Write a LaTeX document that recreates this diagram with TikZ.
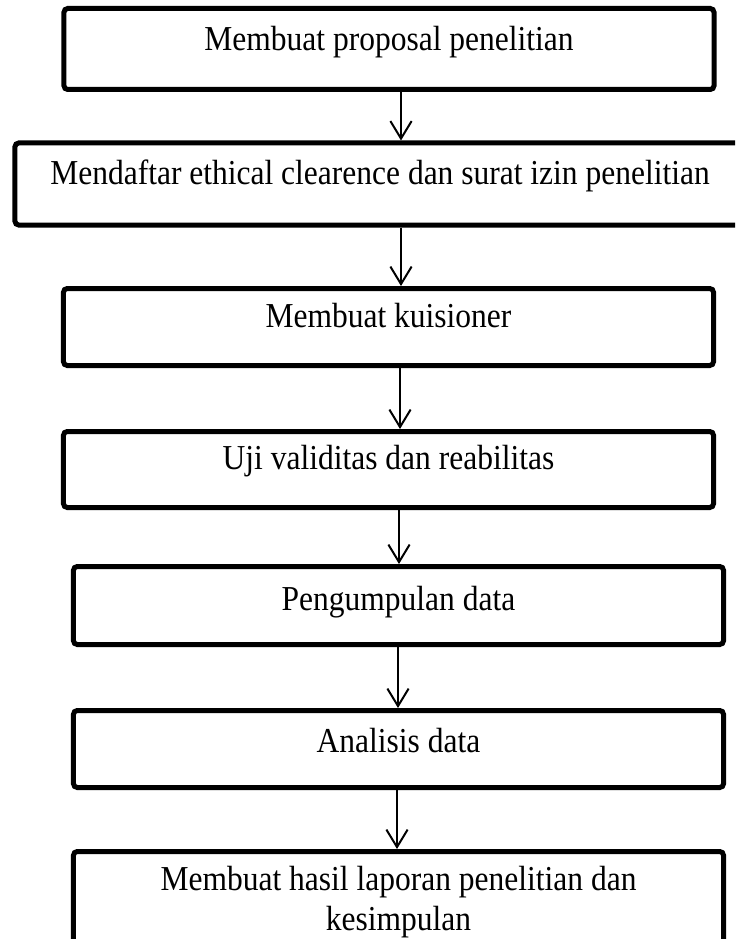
\documentclass[tikz,border=0pt]{standalone}
\usepackage{fontspec}
\setmainfont{Liberation Serif}[FakeStretch=0.9]
\usetikzlibrary{arrows.meta}

\begin{document}
\begin{tikzpicture}[x=0.4pt,y=-0.4pt,font=\fontsize{14}{16.2}\selectfont,
  box/.style={draw,line width=2pt,rounded corners=1.5pt,minimum width=260pt,align=center,text height=9pt,text depth=9pt},
  flow/.style={-{Straight Barb[length=7pt,width=8.5pt]},line width=0.8pt}]
\clip (0,0) rectangle (735,939);

%% steps
\node[box,minimum height=32.4pt,text height=10.5pt] (b1) at (389,49) {Membuat proposal penelitian};
\node[box,minimum height=32.8pt,minimum width=292pt] (b2) at (380,184) {Mendaftar ethical clearence dan surat izin penelitian};
\node[box,minimum height=30.8pt] (b3) at (388.5,327) {Membuat kuisioner};
\node[box,minimum height=30.4pt] (b4) at (388.5,469.5) {Uji validitas dan reabilitas};
\node[box,minimum height=31.2pt,text height=13pt] (b5) at (398.5,605.5) {Pengumpulan data};
\node[box,minimum height=30.8pt,text height=12pt] (b6) at (398.5,749) {Analisis data};
\node[box,minimum height=40.4pt,text height=,text depth=] (b7) at (398.5,902) {Membuat hasil laporan penelitian dan\\kesimpulan};

%% arrows
\foreach \a/\b/\x in {b1/b2/401,b2/b3/401,b3/b4/400,b4/b5/399,b5/b6/398,b6/b7/397}
  \draw[flow] (\a.south -| \x,0) -- (\b.north -| \x,0);
\end{tikzpicture}
\end{document}
